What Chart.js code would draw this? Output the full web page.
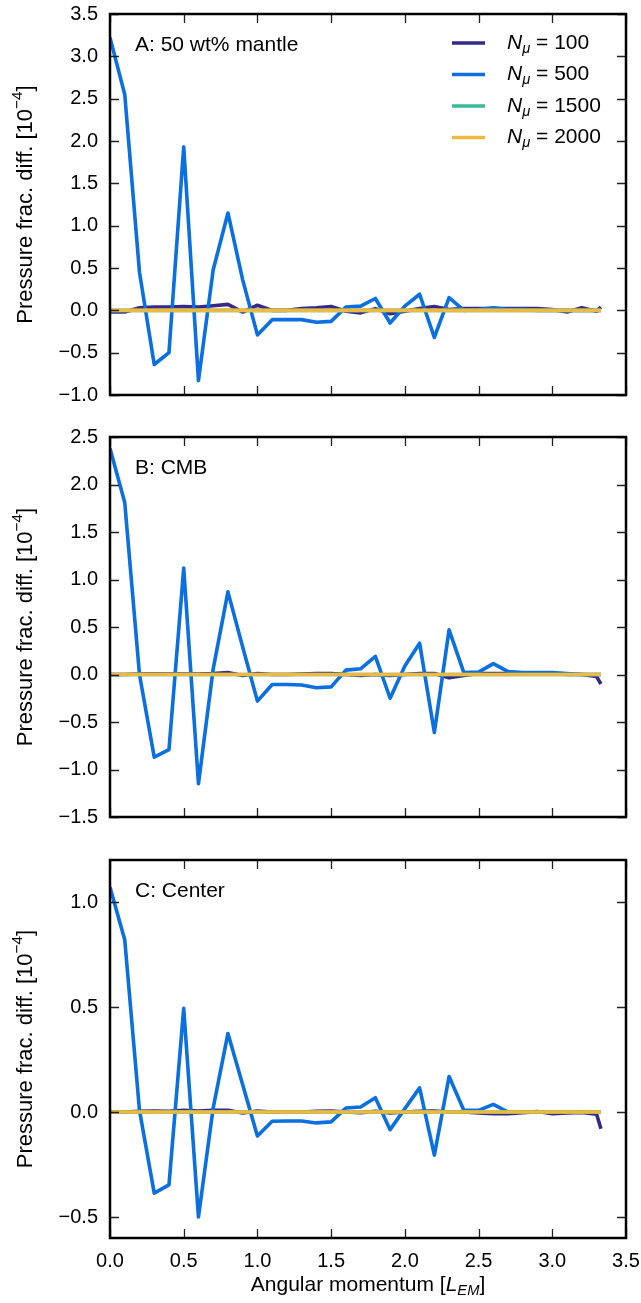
<!DOCTYPE html>
<html>
<head>
<meta charset="utf-8">
<script src="https://cdn.jsdelivr.net/npm/chart.js@4.4.1/dist/chart.umd.min.js"></script>
<style>
  body { margin: 0; background: #fff; }
  .panel { position: absolute; left: 0; width: 641px; }
</style>
</head>
<body>
<div class="panel" style="top:0;height:410px"><canvas id="chartA" width="641" height="410"></canvas></div>
<div class="panel" style="top:410px;height:420px"><canvas id="chartB" width="641" height="420"></canvas></div>
<div class="panel" style="top:830px;height:473px"><canvas id="chartC" width="641" height="473"></canvas></div>
<script>
// 角动量 (x 轴)
const angMom = [0.0, 0.1, 0.2, 0.3, 0.4, 0.5, 0.6, 0.7, 0.8, 0.9, 1.0, 1.1, 1.2, 1.3, 1.4, 1.5, 1.6, 1.7,
                1.8, 1.9, 2.0, 2.1, 2.2, 2.3, 2.4, 2.5, 2.6, 2.7, 2.8, 2.9, 3.0, 3.1, 3.2, 3.3, 3.33];

const seriesLabels = ['100', '500', '1500', '2000'];
const seriesColors = ['#352a87', '#0a6fe1', '#3ab89a', '#efb940'];

// A: 50 wt% mantle
const mantleN100  = [-0.02, -0.02, 0.03, 0.04, 0.04, 0.045, 0.04, 0.055, 0.07, -0.02, 0.06, 0.0, 0.0, 0.02, 0.03, 0.045, -0.01, -0.03,
                     0.02, -0.04, -0.01, 0.02, 0.045, 0.01, 0.02, 0.02, 0.02, 0.02, 0.02, 0.02, 0.01, -0.02, 0.03, -0.01, 0.04];
const mantleN500  = [3.22, 2.55, 0.45, -0.64, -0.50, 1.93, -0.83, 0.48, 1.15, 0.36, -0.29, -0.11, -0.11, -0.11, -0.14, -0.13, 0.04, 0.05,
                     0.14, -0.15, 0.05, 0.19, -0.32, 0.15, 0.0, 0.01, 0.03, 0.01, 0.01, 0.0, 0.0, 0.0, 0.0, 0.0, 0.0];
const mantleN1500 = [0.0, 0.0, 0.0, 0.0, 0.0, 0.0, 0.0, 0.0, 0.0, 0.0, 0.0, 0.0, 0.0, 0.0, 0.0, 0.0, 0.0, 0.0,
                     0.0, 0.0, 0.0, 0.0, 0.0, 0.0, 0.0, 0.0, 0.0, 0.0, 0.0, 0.0, 0.0, 0.0, 0.0, 0.0, 0.0];
const mantleN2000 = [0.0, 0.0, 0.0, 0.0, 0.0, 0.0, 0.0, 0.0, 0.0, 0.0, 0.0, 0.0, 0.0, 0.0, 0.0, 0.0, 0.0, 0.0,
                     0.0, 0.0, 0.0, 0.0, 0.0, 0.0, 0.0, 0.0, 0.0, 0.0, 0.0, 0.0, 0.0, 0.0, 0.0, 0.0, 0.0];

// B: CMB
const cmbN100  = [0.0, 0.0, 0.005, 0.005, 0.005, 0.005, 0.005, 0.01, 0.02, -0.01, 0.01, 0.0, 0.0, 0.005, 0.01, 0.01, 0.0, -0.01,
                  0.0, -0.01, 0.0, 0.01, 0.01, -0.035, -0.01, 0.01, 0.01, 0.01, 0.01, 0.01, 0.01, 0.0, 0.0, -0.02, -0.1];
const cmbN500  = [2.38, 1.81, 0.0, -0.87, -0.79, 1.12, -1.15, 0.06, 0.87, 0.29, -0.28, -0.105, -0.105, -0.11, -0.14, -0.13, 0.046, 0.06,
                  0.19, -0.25, 0.09, 0.33, -0.61, 0.47, 0.02, 0.025, 0.115, 0.03, 0.02, 0.02, 0.02, 0.01, 0.0, 0.0, 0.0];
const cmbN1500 = [0.0, 0.0, 0.0, 0.0, 0.0, 0.0, 0.0, 0.0, 0.0, 0.0, 0.0, 0.0, 0.0, 0.0, 0.0, 0.0, 0.0, 0.0,
                  0.0, 0.0, 0.0, 0.0, 0.0, 0.0, 0.0, 0.0, 0.0, 0.0, 0.0, 0.0, 0.0, 0.0, 0.0, 0.0, 0.0];
const cmbN2000 = [0.0, 0.0, 0.0, 0.0, 0.0, 0.0, 0.0, 0.0, 0.0, 0.0, 0.0, 0.0, 0.0, 0.0, 0.0, 0.0, 0.0, 0.0,
                  0.0, 0.0, 0.0, 0.0, 0.0, 0.0, 0.0, 0.0, 0.0, 0.0, 0.0, 0.0, 0.0, 0.0, 0.0, 0.0, 0.0];

// C: Center
const centerN100  = [0.0, 0.0, 0.003, 0.005, 0.003, 0.008, 0.005, 0.008, 0.008, -0.005, 0.005, 0.0, 0.0, 0.0, 0.003, 0.005, 0.0, -0.003,
                     0.003, -0.005, 0.0, 0.003, 0.005, 0.0, 0.0, -0.005, -0.008, -0.008, -0.003, 0.002, -0.008, -0.005, -0.002, -0.01, -0.08];
const centerN500  = [1.07, 0.82, 0.008, -0.386, -0.347, 0.494, -0.50, 0.02, 0.374, 0.13, -0.114, -0.044, -0.043, -0.043, -0.052, -0.047, 0.019, 0.024,
                     0.068, -0.084, 0.016, 0.115, -0.205, 0.169, 0.008, 0.008, 0.036, 0.0, 0.0, 0.0, 0.0, 0.0, 0.0, 0.0, 0.0];
const centerN1500 = [0.0, 0.0, 0.0, 0.0, 0.0, 0.0, 0.0, 0.0, 0.0, 0.0, 0.0, 0.0, 0.0, 0.0, 0.0, 0.0, 0.0, 0.0,
                     0.0, 0.0, 0.0, 0.0, 0.0, 0.0, 0.0, 0.0, 0.0, 0.0, 0.0, 0.0, 0.0, 0.0, 0.0, 0.0, 0.0];
const centerN2000 = [0.0, 0.0, 0.0, 0.0, 0.0, 0.0, 0.0, 0.0, 0.0, 0.0, 0.0, 0.0, 0.0, 0.0, 0.0, 0.0, 0.0, 0.0,
                     0.0, 0.0, 0.0, 0.0, 0.0, 0.0, 0.0, 0.0, 0.0, 0.0, 0.0, 0.0, 0.0, 0.0, 0.0, 0.0, 0.0];

// 刻度
const xTicks = [0.0, 0.5, 1.0, 1.5, 2.0, 2.5, 3.0, 3.5];
const yTicksA = [-1.0, -0.5, 0.0, 0.5, 1.0, 1.5, 2.0, 2.5, 3.0, 3.5];
const yTicksB = [-1.5, -1.0, -0.5, 0.0, 0.5, 1.0, 1.5, 2.0, 2.5];
const yTicksC = [-0.5, 0.0, 0.5, 1.0];

const FONT = '"Liberation Sans", Arial, Helvetica, sans-serif';

function fmt(v) {
    return v.toFixed(1).replace('-', '\u2212');
}

/**
 * 画带上下标的文字
 */
function drawRich(ctx, parts, x, y, size, align) {
    const pieces = parts.map(p => {
        const s = (p.sub || p.sup) ? size * 0.7 : size;
        const font = (p.italic ? 'italic ' : '') + s + 'px ' + FONT;
        ctx.font = font;
        return { text: p.t, font, w: ctx.measureText(p.t).width, dy: p.sub ? size * 0.28 : (p.sup ? -size * 0.38 : 0) };
    });
    const total = pieces.reduce((a, p) => a + p.w, 0);
    let cx = align === 'center' ? x - total / 2 : x;
    ctx.textBaseline = 'middle';
    ctx.textAlign = 'left';
    pieces.forEach(p => {
        ctx.font = p.font;
        ctx.fillText(p.text, cx, y + p.dy);
        cx += p.w;
    });
}

// 边框, 内向刻度, 标注, 图例
const framePlugin = {
    id: 'frame',
    afterDraw(chart, args, opts) {
        const ctx = chart.ctx;
        const a = chart.chartArea;
        const xs = chart.scales.x;
        const ys = chart.scales.y;
        ctx.save();

        // inward ticks
        ctx.strokeStyle = '#222';
        ctx.lineWidth = 1.3;
        ctx.beginPath();
        xTicks.forEach(v => {
            const px = Math.round(xs.getPixelForValue(v)) + 0.5;
            ctx.moveTo(px, a.bottom); ctx.lineTo(px, a.bottom - 9);
            ctx.moveTo(px, a.top); ctx.lineTo(px, a.top + 9);
        });
        opts.yTicks.forEach(v => {
            const py = Math.round(ys.getPixelForValue(v)) + 0.5;
            ctx.moveTo(a.left, py); ctx.lineTo(a.left + 9, py);
            ctx.moveTo(a.right, py); ctx.lineTo(a.right - 9, py);
        });
        ctx.stroke();

        // frame
        ctx.strokeStyle = '#000';
        ctx.lineWidth = 2.5;
        ctx.strokeRect(a.left, a.top, a.right - a.left, a.bottom - a.top);

        ctx.fillStyle = '#000';
        // panel label
        drawRich(ctx, [{ t: opts.label }], a.left + 25, a.top + 31, 21, 'left');

        // y title
        ctx.save();
        ctx.translate(26, (a.top + a.bottom) / 2);
        ctx.rotate(-Math.PI / 2);
        drawRich(ctx, [{ t: 'Pressure frac. diff. [10' }, { t: '\u22124', sup: true }, { t: ']' }], 0, 0, 22, 'center');
        ctx.restore();

        // legend
        if (opts.legend) {
            seriesLabels.forEach((lab, i) => {
                const y = 43 + i * 31.5;
                ctx.strokeStyle = seriesColors[i];
                ctx.lineWidth = 3.6;
                ctx.beginPath();
                ctx.moveTo(452, y); ctx.lineTo(485, y);
                ctx.stroke();
                ctx.fillStyle = '#000';
                drawRich(ctx, [{ t: 'N', italic: true }, { t: '\u03bc', italic: true, sub: true }, { t: ' = ' + lab }], 507, y, 21, 'left');
            });
        }

        // x title
        if (opts.xTitle) {
            drawRich(ctx, [{ t: 'Angular momentum [' }, { t: 'L', italic: true }, { t: 'EM', italic: true, sub: true }, { t: ']' }],
                (a.left + a.right) / 2, 455, 21, 'center');
        }
        ctx.restore();
    }
};

function buildChart(id, series, yMin, yMax, yTicks, cfg) {
    const datasets = series.map((vals, i) => ({
        label: 'N = ' + seriesLabels[i],
        data: angMom.map((x, j) => ({ x: x, y: vals[j] })),
        borderColor: seriesColors[i],
        backgroundColor: seriesColors[i],
        borderWidth: 3.6,
        borderJoinStyle: 'round',
        pointRadius: 0,
        tension: 0,
        order: series.length - i
    }));

    return new Chart(document.getElementById(id), {
        type: 'line',
        data: { datasets },
        options: {
            responsive: false,
            animation: false,
            devicePixelRatio: 1,
            layout: { padding: { top: cfg.top, right: 15, left: 0, bottom: 0 } },
            plugins: {
                legend: { display: false },
                tooltip: { enabled: false },
                frame: { yTicks, label: cfg.label, legend: cfg.legend, xTitle: cfg.xTitle }
            },
            scales: {
                x: {
                    type: 'linear',
                    min: 0,
                    max: 3.5,
                    afterBuildTicks: s => { s.ticks = xTicks.map(v => ({ value: v })); },
                    afterFit: s => {
                        s.height = cfg.xHeight;
                        s.paddingLeft = 0;
                        s.paddingRight = 0;
                    },
                    grid: { display: false, drawTicks: false },
                    border: { display: false },
                    ticks: {
                        display: cfg.xTitle,
                        padding: 11,
                        color: '#000',
                        maxRotation: 0,
                        font: { family: FONT, size: 20 },
                        callback: v => fmt(v)
                    }
                },
                y: {
                    min: yMin,
                    max: yMax,
                    afterBuildTicks: s => { s.ticks = yTicks.map(v => ({ value: v })); },
                    afterFit: s => {
                        s.width = 110;
                        s.paddingTop = 0;
                        s.paddingBottom = 0;
                    },
                    grid: { display: false, drawTicks: false },
                    border: { display: false },
                    ticks: {
                        padding: 12,
                        color: '#000',
                        font: { family: FONT, size: 20 },
                        callback: v => fmt(v)
                    }
                }
            }
        },
        plugins: [framePlugin]
    });
}

buildChart('chartA', [mantleN100, mantleN500, mantleN1500, mantleN2000], -1.0, 3.5, yTicksA,
    { top: 14, xHeight: 15, label: 'A: 50 wt% mantle', legend: true, xTitle: false });
buildChart('chartB', [cmbN100, cmbN500, cmbN1500, cmbN2000], -1.5, 2.5, yTicksB,
    { top: 27, xHeight: 13, label: 'B: CMB', legend: false, xTitle: false });
buildChart('chartC', [centerN100, centerN500, centerN1500, centerN2000], -0.6, 1.2, yTicksC,
    { top: 30, xHeight: 65, label: 'C: Center', legend: false, xTitle: true });
</script>
</body>
</html>
